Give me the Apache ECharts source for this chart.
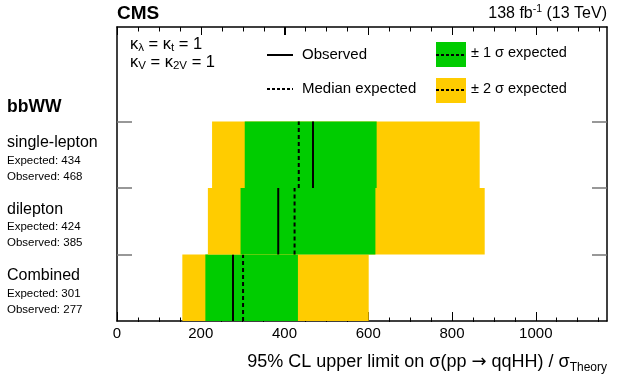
<!DOCTYPE html>
<html>
<head>
<meta charset="utf-8">
<script src="https://cdn.jsdelivr.net/npm/echarts@6/dist/echarts.min.js"></script>
<style>
  html, body { margin: 0; padding: 0; background: #fff; }
  #chart { width: 623px; height: 374px; }
</style>
</head>
<body>
<div id="chart"></div>
<script>
// channels, bottom to top
const categories = ["Combined", "dilepton", "single-lepton"];
const expected = [301, 424, 434];
const observed = [277, 385, 468];
// expected bands
const minus2 = [156, 217, 227];
const minus1 = [211, 295, 305];
const plus1 = [432, 617, 620];
const plus2 = [601, 878, 866];
const xTicks = [0, 200, 400, 600, 800, 1000];
const xMinorTicks = [50, 100, 150, 250, 300, 350, 450, 500, 550, 650, 700, 750, 850, 900, 950, 1050, 1100, 1150];
const rowEdges = [1, 2, 3];

const FONT = "Liberation Sans";
const GREEN = "#00cc00";
const YELLOW = "#ffcc00";
const Y_MAX = 4.42;

const rows = categories.map((c, i) => [i, minus2[i], minus1[i], plus1[i], plus2[i], expected[i], observed[i]]);
// tick marks along the top frame: [value, length in px]
const topTicks = xTicks.map(v => [v, 8]).concat(xMinorTicks.map(v => [v, 4.5]));

const chart = echarts.init(document.getElementById("chart"));

function renderRow(params, api) {
  const row = api.value(0);
  const y0 = api.coord([0, row])[1];
  const y1 = api.coord([0, row + 1])[1];
  const x = k => api.coord([api.value(k), row])[0];
  return {
    type: "group",
    children: [
      { type: "rect", shape: { x: x(1), y: y1, width: x(4) - x(1), height: y0 - y1 }, style: { fill: YELLOW } },
      { type: "rect", shape: { x: x(2), y: y1, width: x(3) - x(2), height: y0 - y1 }, style: { fill: GREEN } },
      { type: "line", shape: { x1: x(5), y1: y0, x2: x(5), y2: y1 }, style: { stroke: "#000", lineWidth: 2, lineDash: [4, 3] } },
      { type: "line", shape: { x1: x(6), y1: y0, x2: x(6), y2: y1 }, style: { stroke: "#000", lineWidth: 2 } }
    ]
  };
}

function renderTopTick(params, api) {
  const p = api.coord([api.value(0), Y_MAX]);
  const x = Math.round(p[0]) + 0.5;
  return {
    type: "line",
    shape: { x1: x, y1: p[1], x2: x, y2: p[1] + api.value(1) },
    style: { stroke: "#000", lineWidth: 1 }
  };
}

const gridRect = { left: 117, right: 16, top: 27, bottom: 52 };

function xAxisDef(grid, pos, ticks, len, line, labels) {
  return {
    type: "value", gridIndex: grid, position: pos, min: 0, max: 1170, interval: 200,
    axisLine: { show: line, onZero: false, lineStyle: { color: "#000", width: 1.5 } },
    axisTick: { show: true, inside: true, length: len, customValues: ticks, lineStyle: { color: "#000", width: 1 } },
    splitLine: { show: false },
    axisLabel: labels ? {
      show: true, color: "#000", fontSize: 15, fontFamily: FONT, margin: 5,
      customValues: xTicks, formatter: v => String(v)
    } : { show: false }
  };
}

const bottomAxis = xAxisDef(0, "bottom", xTicks, 9, true, true);
bottomAxis.name = "{m|95% CL upper limit on σ(pp }{r|→}{m| qqHH) / σ}{s|Theory}";
bottomAxis.nameLocation = "end";
bottomAxis.nameGap = 0;
bottomAxis.nameTextStyle = {
  align: "right", verticalAlign: "top", padding: [29, 0, 0, 0],
  rich: {
    m: { fontSize: 18, fontFamily: FONT, color: "#000" },
    r: { fontSize: 18, fontFamily: "DejaVu Sans", color: "#000" },
    s: { fontSize: 12, fontFamily: FONT, color: "#000", padding: [12, 0, 0, 0] }
  }
};

function yAxisDef(pos, labels) {
  return {
    type: "value", gridIndex: 0, position: pos, min: 0, max: Y_MAX,
    axisLine: { show: true, onZero: false, lineStyle: { color: "#000", width: 1.5 } },
    axisTick: { show: true, inside: true, length: 15, customValues: rowEdges, lineStyle: { color: "#777", width: 1.5 } },
    splitLine: { show: false },
    axisLabel: labels ? {
      show: true, customValues: [0.5, 1.5, 2.5], margin: 110, align: "left", verticalAlign: "middle",
      padding: [8, 0, 0, 0],
      formatter: v => {
        const i = Math.round(v - 0.5);
        return "{a|" + categories[i] + "}\n{b|Expected: " + expected[i] + "}\n{b|Observed: " + observed[i] + "}";
      },
      rich: {
        a: { fontSize: 16, lineHeight: 20, fontFamily: FONT, color: "#000" },
        b: { fontSize: 11.5, lineHeight: 16, fontFamily: FONT, color: "#000" }
      }
    } : { show: false }
  };
}

const option = {
  animation: false,
  textStyle: { fontFamily: FONT },
  grid: [Object.assign({}, gridRect), Object.assign({}, gridRect)],
  xAxis: [
    bottomAxis,
    xAxisDef(0, "top", xTicks, 8, true, false),
    xAxisDef(1, "bottom", xMinorTicks, 4.5, false, false)
  ],
  yAxis: [
    yAxisDef("left", true),
    yAxisDef("right", false),
    { type: "value", gridIndex: 1, min: 0, max: Y_MAX, show: false }
  ],
  series: [
    {
      type: "custom",
      xAxisIndex: 0, yAxisIndex: 0,
      renderItem: renderRow,
      encode: { x: [1, 2, 3, 4, 5, 6], y: 0 },
      data: rows,
      z: 1
    },
    {
      type: "custom",
      xAxisIndex: 0, yAxisIndex: 0,
      renderItem: renderTopTick,
      encode: { x: 0 },
      data: topTicks,
      silent: true,
      z: 5
    }
  ],
  graphic: [
    { type: "text", left: 117, top: 4, style: { text: "CMS", font: "bold 19px " + FONT, fill: "#000" } },
    { type: "text", right: 16, top: 4, style: { text: "{n|138 fb}{p|-1}{n| (13 TeV)}", fill: "#000",
      rich: { n: { fontSize: 16, fontFamily: FONT }, p: { fontSize: 10.5, fontFamily: FONT, padding: [0, 0, 8, 0] } } } },
    { type: "text", left: 7, top: 98, style: { text: "bbWW", font: "bold 17.5px " + FONT, fill: "#000" } },
    // kappa text
    { type: "text", left: 130, top: 36, z: 10, style: { text: "{t|κ}{s|λ}{t| = κ}{s|t}{t| = 1}", fill: "#000",
      rich: { t: { fontSize: 16.5, fontFamily: FONT }, s: { fontSize: 11.5, fontFamily: FONT, padding: [7, 0, 0, 0] } } } },
    { type: "text", left: 130, top: 54, z: 10, style: { text: "{t|κ}{s|V}{t| = κ}{s|2V}{t| = 1}", fill: "#000",
      rich: { t: { fontSize: 16.5, fontFamily: FONT }, s: { fontSize: 11.5, fontFamily: FONT, padding: [7, 0, 0, 0] } } } },
    // legend
    { type: "line", z: 10, shape: { x1: 267, y1: 55, x2: 293, y2: 55 }, style: { stroke: "#000", lineWidth: 2 } },
    { type: "text", z: 10, left: 302, top: 47, style: { text: "Observed", font: "15px " + FONT, fill: "#000" } },
    { type: "line", z: 10, shape: { x1: 267, y1: 89, x2: 293, y2: 89 }, style: { stroke: "#000", lineWidth: 2, lineDash: [3, 2] } },
    { type: "text", z: 10, left: 302, top: 81, style: { text: "Median expected", font: "15px " + FONT, fill: "#000" } },
    { type: "rect", z: 10, shape: { x: 436, y: 42, width: 30, height: 25 }, style: { fill: GREEN } },
    { type: "line", z: 11, shape: { x1: 436, y1: 55, x2: 466, y2: 55 }, style: { stroke: "#000", lineWidth: 2, lineDash: [3, 2] } },
    { type: "text", z: 10, left: 471, top: 45, style: { text: "± 1 σ expected", font: "14.5px " + FONT, fill: "#000" } },
    { type: "rect", z: 10, shape: { x: 436, y: 78, width: 30, height: 25 }, style: { fill: YELLOW } },
    { type: "line", z: 11, shape: { x1: 436, y1: 90, x2: 466, y2: 90 }, style: { stroke: "#000", lineWidth: 2, lineDash: [3, 2] } },
    { type: "text", z: 10, left: 471, top: 81, style: { text: "± 2 σ expected", font: "14.5px " + FONT, fill: "#000" } }
  ]
};

chart.setOption(option);
</script>
</body>
</html>
